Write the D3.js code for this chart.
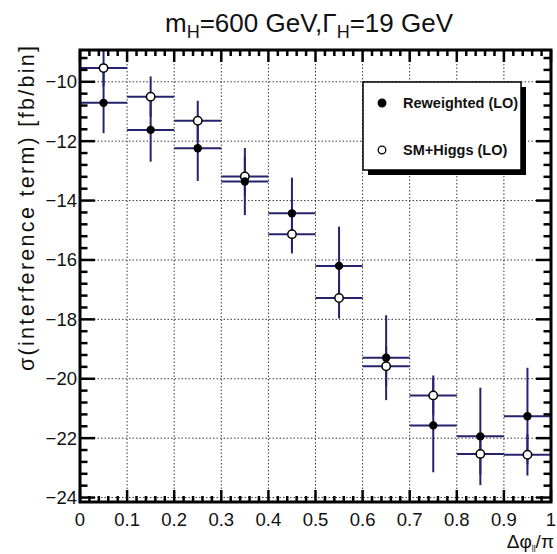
<!DOCTYPE html>
<html>
<head>
<meta charset="utf-8">
<script src="https://cdn.jsdelivr.net/npm/d3@7"></script>
<style>
  html, body { margin: 0; padding: 0; background: #fff; }
  svg { display: block; font-family: "Liberation Sans", Arial, sans-serif; }
</style>
</head>
<body>
<svg id="chart" width="557" height="554"></svg>
<script>
// Δφ bins (in units of π)
const binLow  = [0.0, 0.1, 0.2, 0.3, 0.4, 0.5, 0.6, 0.7, 0.8, 0.9];
const binHigh = [0.1, 0.2, 0.3, 0.4, 0.5, 0.6, 0.7, 0.8, 0.9, 1.0];

// Interference-term cross section per bin [fb/bin]
const reweighted    = [-10.71, -11.62, -12.24, -13.36, -14.43, -16.20, -19.29, -21.57, -21.94, -21.26];
const reweightedErr = [  1.02,   1.07,   1.10,   1.13,   1.20,   1.32,   1.43,   1.58,   1.64,   1.63];
const smHiggs       = [ -9.54, -10.50, -11.31, -13.19, -15.13, -17.28, -19.58, -20.56, -22.53, -22.56];
const smHiggsErr    = [  0.62,   0.68,   0.67,   0.66,   0.65,   0.69,   0.68,   0.67,   0.70,   0.70];

const seriesNames = ["Reweighted (LO)", "SM+Higgs (LO)"];
const xTickValues = [0, 0.1, 0.2, 0.3, 0.4, 0.5, 0.6, 0.7, 0.8, 0.9, 1];
const yTickValues = [-24, -22, -20, -18, -16, -14, -12, -10];

(function draw() {
const svg = d3.select("#chart");
const fL = 80, fR = 551, fT = 50, fB = 502;

const x = d3.scaleLinear().domain([0, 1]).range([fL, fR]);
const y = d3.scaleLinear().domain([-24.15, -8.93]).range([fB, fT]);

const barColor = "#24246e";

// clip region for everything drawn inside the frame
svg.append("defs").append("clipPath").attr("id", "frameClip")
  .append("rect").attr("x", fL).attr("y", fT)
  .attr("width", fR - fL).attr("height", fB - fT);

// dotted grid at the major ticks
const grid = svg.append("g").attr("stroke", "#3a3a3a").attr("stroke-width", 1)
  .attr("stroke-dasharray", "1.5,2");
grid.selectAll(null).data(xTickValues.filter(v => v > 0 && v < 1)).join("line")
  .attr("x1", d => x(d)).attr("x2", d => x(d)).attr("y1", fT).attr("y2", fB);
grid.selectAll(null).data(yTickValues).join("line")
  .attr("x1", fL).attr("x2", fR).attr("y1", d => y(d)).attr("y2", d => y(d));

// data layer
const bins = binLow.map((lo, i) => ({
  lo, hi: binHigh[i], c: (lo + binHigh[i]) / 2,
  rw: reweighted[i], rwE: reweightedErr[i],
  sm: smHiggs[i], smE: smHiggsErr[i]
}));

const dataG = svg.append("g").attr("clip-path", "url(#frameClip)");
const bars = dataG.append("g").attr("stroke", barColor).attr("stroke-width", 2);

[["rw", "rwE"], ["sm", "smE"]].forEach(([v, e]) => {
  bars.append("g").selectAll("line").data(bins).join("line")
    .attr("x1", d => x(d.lo)).attr("x2", d => x(d.hi))
    .attr("y1", d => y(d[v])).attr("y2", d => y(d[v]));
  bars.append("g").selectAll("line").data(bins).join("line")
    .attr("x1", d => x(d.c)).attr("x2", d => x(d.c))
    .attr("y1", d => y(d[v] + d[e])).attr("y2", d => y(d[v] - d[e]));
});

// markers: open circles for SM+Higgs, filled for reweighted
dataG.append("g").selectAll("circle").data(bins).join("circle")
  .attr("cx", d => x(d.c)).attr("cy", d => y(d.sm)).attr("r", 4.2)
  .attr("fill", "#fff").attr("stroke", "#000").attr("stroke-width", 1.5);
dataG.append("g").selectAll("circle").data(bins).join("circle")
  .attr("cx", d => x(d.c)).attr("cy", d => y(d.rw)).attr("r", 4.2)
  .attr("fill", "#000");

// axes frame and ticks (ticks point inward on all four sides)
const axisG = svg.append("g").attr("stroke", "#000").attr("stroke-width", 2.5);
const xMinor = d3.range(0, 51).map(i => i * 0.02)
  .filter(v => !xTickValues.some(t => Math.abs(t - v) < 1e-9));
const yMinor = d3.range(0, 40).map(i => -24.4 + i * 0.4)
  .filter(v => v >= y.domain()[0] && v <= y.domain()[1])
  .filter(v => !yTickValues.some(t => Math.abs(t - v) < 1e-9));

function xTicks(values, len) {
  axisG.append("g").selectAll("line").data(values).join("line")
    .attr("x1", d => x(d)).attr("x2", d => x(d)).attr("y1", fB).attr("y2", fB - len);
  axisG.append("g").selectAll("line").data(values).join("line")
    .attr("x1", d => x(d)).attr("x2", d => x(d)).attr("y1", fT).attr("y2", fT + len);
}
function yTicks(values, len) {
  axisG.append("g").selectAll("line").data(values).join("line")
    .attr("x1", fL).attr("x2", fL + len).attr("y1", d => y(d)).attr("y2", d => y(d));
  axisG.append("g").selectAll("line").data(values).join("line")
    .attr("x1", fR).attr("x2", fR - len).attr("y1", d => y(d)).attr("y2", d => y(d));
}
xTicks(xTickValues, 12);
xTicks(xMinor, 6);
yTicks(yTickValues, 15);
yTicks(yMinor, 7.5);

axisG.append("rect").attr("x", fL).attr("y", fT)
  .attr("width", fR - fL).attr("height", fB - fT)
  .attr("fill", "none").attr("stroke-width", 3);

// tick labels
const fmtX = d => (d === 0 || d === 1) ? String(d) : d.toFixed(1);
svg.append("g").attr("font-size", 18.5).attr("fill", "#111").attr("text-anchor", "middle")
  .selectAll("text").data(xTickValues).join("text")
  .attr("x", d => x(d)).attr("y", 526).text(fmtX);
svg.append("g").attr("font-size", 18.5).attr("fill", "#111").attr("text-anchor", "end")
  .selectAll("text").data(yTickValues).join("text")
  .attr("x", 77).attr("y", d => y(d) + 6.5).text(d => "\u2212" + Math.abs(d));

// title
const title = svg.append("text").attr("x", 309).attr("y", 32)
  .attr("text-anchor", "middle").attr("font-size", 26).attr("fill", "#111");
title.append("tspan").text("m");
title.append("tspan").attr("dy", 6).attr("font-size", 18).text("H");
title.append("tspan").attr("dy", -6).text("=600 GeV,\u0393");
title.append("tspan").attr("dy", 6).attr("font-size", 18).text("H");
title.append("tspan").attr("dy", -6).text("=19 GeV");

// axis titles
const xt = svg.append("text").attr("x", 554).attr("y", 548)
  .attr("text-anchor", "end").attr("font-size", 19).attr("fill", "#111");
xt.append("tspan").text("\u0394\u03c6");
xt.append("tspan").attr("dy", 4).attr("font-size", 8.5).text("ll");
xt.append("tspan").attr("dy", -4).text("/\u03c0");

svg.append("text")
  .attr("transform", "translate(34,46) rotate(-90)")
  .attr("text-anchor", "end").attr("font-size", 21.5).attr("fill", "#111")
  .attr("textLength", 325).attr("lengthAdjust", "spacing")
  .text("\u03c3(interference term) [fb/bin]");

// legend with drop shadow
const lg = svg.append("g");
const lx = 363, ly = 82, lw = 158, lh = 88;
lg.append("rect").attr("x", lx + 5).attr("y", ly + 5).attr("width", lw).attr("height", lh).attr("fill", "#000");
lg.append("rect").attr("x", lx).attr("y", ly).attr("width", lw).attr("height", lh)
  .attr("fill", "#fff").attr("stroke", "#000").attr("stroke-width", 1.5);
const legendRows = [
  { name: seriesNames[0], filled: true,  cy: 103 },
  { name: seriesNames[1], filled: false, cy: 150 }
];
legendRows.forEach(r => {
  lg.append("circle").attr("cx", 382).attr("cy", r.cy).attr("r", 3.8)
    .attr("fill", r.filled ? "#000" : "#fff").attr("stroke", "#000").attr("stroke-width", 1.3);
  lg.append("text").attr("x", 403).attr("y", r.cy + 5)
    .attr("font-size", 14.5).attr("font-weight", "bold").attr("fill", "#111").text(r.name);
});
})();
</script>
</body>
</html>
